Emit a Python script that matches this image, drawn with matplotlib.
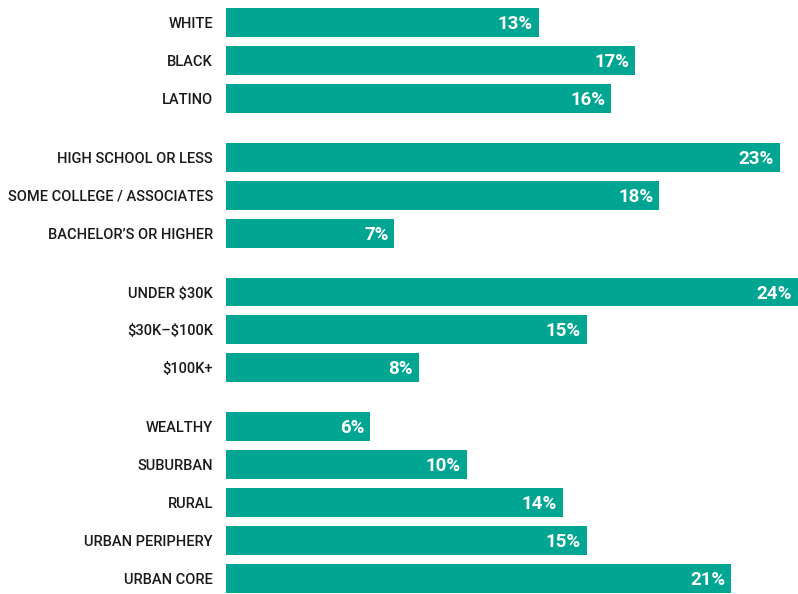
import matplotlib
matplotlib.use("Agg")
import matplotlib.pyplot as plt

plt.rcParams["text.parse_math"] = False

groups = [
    ["WHITE", "BLACK", "LATINO"],
    ["HIGH SCHOOL OR LESS", "SOME COLLEGE / ASSOCIATES", "BACHELOR\u2019S OR HIGHER"],
    ["UNDER $30K", "$30K\u2013$100K", "$100K+"],
    ["WEALTHY", "SUBURBAN", "RURAL", "URBAN PERIPHERY", "URBAN CORE"],
]
values = [
    [13, 17, 16],
    [23, 18, 7],
    [24, 15, 8],
    [6, 10, 14, 15, 21],
]

COLOR = "#00A692"
W, H, DPI = 798, 594, 100
row_px = 38.0
gap = 21.0 / row_px
bar_h = 29.0 / row_px
px_per_pct = 24.07
PT = 72 / DPI

fig = plt.figure(figsize=(W / DPI, H / DPI), dpi=DPI)
ax_left = 226
ax = fig.add_axes([ax_left / W, 0, 1 - ax_left / W, 1])

ys, labels, vals = [], [], []
i = 0
for g, (labs, vs) in enumerate(zip(groups, values)):
    for lab, v in zip(labs, vs):
        ys.append(i + g * gap)
        labels.append(lab)
        vals.append(v)
        i += 1

xmax = (W - ax_left) / px_per_pct
ax.set_xlim(0, xmax)
top = -22.5 / row_px
bottom = ys[-1] + (H - 578.5) / row_px
ax.set_ylim(bottom, top)

ax.barh(ys, vals, height=bar_h, color=COLOR, edgecolor="none")

for y, lab, v in zip(ys, labels, vals):
    ax.annotate(lab, xy=(0, y), xytext=(-13 * PT, -1.5 * PT), textcoords="offset points",
                ha="right", va="center", fontsize=10.5, color="#1a1a1a",
                family="Roboto", fontweight="medium", annotation_clip=False)
    xv = min(v, xmax)
    ax.annotate(f"{v}%", xy=(xv, y), xytext=(-6 * PT, -1.5 * PT), textcoords="offset points",
                ha="right", va="center", fontsize=13.5, color="white",
                family="Roboto", fontweight="bold")

ax.axis("off")
fig.savefig("out.png", dpi=DPI)
